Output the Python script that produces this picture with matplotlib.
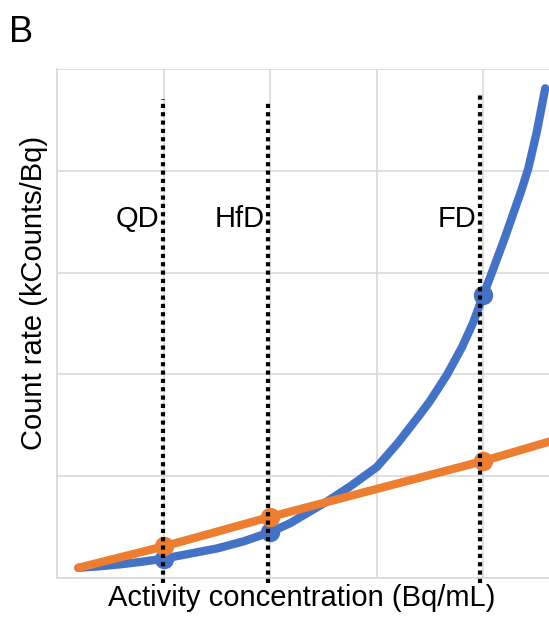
import numpy as np
import matplotlib
matplotlib.use("Agg")
import matplotlib.pyplot as plt

plt.rcParams['font.family'] = ['Liberation Sans', 'DejaVu Sans']

# values (grid step = 1 unit, no tick labels)
blue_x = [0.2, 0.4, 0.6, 0.8, 1.0, 1.25, 1.5, 1.75, 2.0, 2.19, 2.35, 2.53, 2.75, 3.0,
          3.2, 3.4, 3.5, 3.66, 3.8, 3.9, 4.0, 4.09, 4.2, 4.36, 4.42, 4.5, 4.58]
blue_y = [0.1, 0.115, 0.135, 0.16, 0.19, 0.24, 0.29, 0.36, 0.45, 0.54, 0.64, 0.75, 0.9, 1.09,
          1.33, 1.6, 1.74, 2.0, 2.27, 2.5, 2.78, 3.03, 3.34, 3.82, 4.02, 4.38, 4.81]
orange_x = [0.2, 1.0, 2.0, 4.0, 4.62]
orange_y = [0.1, 0.31, 0.6, 1.15, 1.34]
mark_x = [1.0, 2.0, 4.0]
blue_marks = [0.19, 0.45, 2.78]
orange_marks = [0.31, 0.6, 1.15]
dose_x = [0.99, 1.975, 3.965]
dose_top = [4.71, 4.69, 4.77]
dose_names = ["QD", "HfD", "FD"]

blue = "#4472C4"
orange = "#ED7D31"

fig = plt.figure(figsize=(5.49, 6.19), dpi=100)
ax = fig.add_axes([57 / 549, 41 / 619, 492 / 549, 509 / 619])

ax.set_xlim(0, 4.615)
ax.set_ylim(0, 5)
ax.set_xticks(np.arange(0, 5, 1))
ax.set_yticks(np.arange(0, 6, 1))
ax.grid(True, color="#D9D9D9", linewidth=1.2)
ax.tick_params(length=0, labelbottom=False, labelleft=False)
for s in ["top", "right"]:
    ax.spines[s].set_visible(False)
for s in ["left", "bottom"]:
    ax.spines[s].set_color("#D9D9D9")
    ax.spines[s].set_linewidth(1.2)

ax.plot(blue_x, blue_y, color=blue, lw=6, solid_capstyle="round",
        solid_joinstyle="round", zorder=3)
ax.plot(mark_x, blue_marks, "o", color=blue, ms=13, zorder=3)
ax.plot(orange_x, orange_y, color=orange, lw=6, solid_capstyle="round", zorder=4)
ax.plot(mark_x, orange_marks, "o", color=orange, ms=13, zorder=4)

for x, top, name in zip(dose_x, dose_top, dose_names):
    ax.plot([x, x], [-0.05, top], color="black", lw=3, linestyle=(0, (1, 1)),
            clip_on=False, zorder=5)
    ax.text(x - 0.03, 3.53, name, ha="right", va="center", fontsize=21, zorder=6)

fig.text(302 / 549, 1 - 598 / 619, "Activity concentration (Bq/mL)",
         ha="center", va="center", fontsize=21)
fig.text(34 / 549, 1 - 293 / 619, "Count rate (kCounts/Bq)",
         ha="center", va="center", rotation=90, fontsize=21)
fig.text(21 / 549, 1 - 33 / 619, "B", ha="center", va="center", fontsize=26)

fig.savefig("out.png", dpi=100)
